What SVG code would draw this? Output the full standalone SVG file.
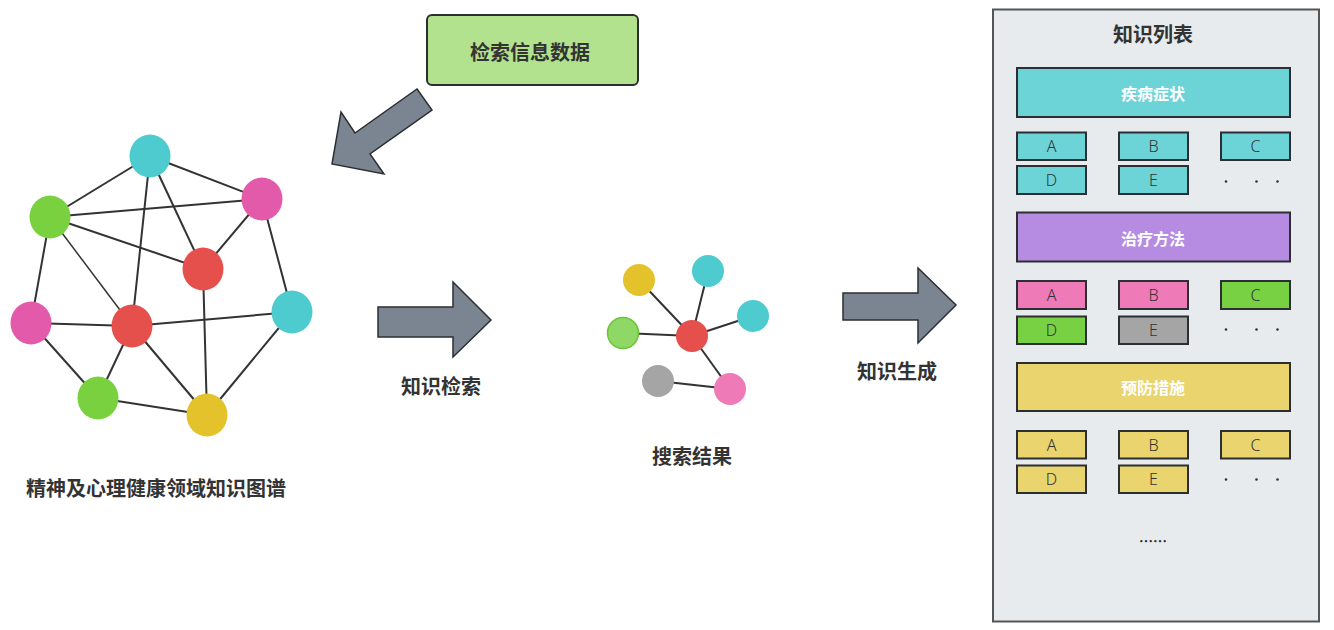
<svg xmlns="http://www.w3.org/2000/svg" width="1334" height="630" viewBox="0 0 1334 630">
<style>
.cjk{font-family:"Noto Sans CJK SC","Noto Sans",sans-serif;font-weight:bold;fill:#333;text-anchor:middle;dominant-baseline:central}
.lbl{font-size:20px}
.hdr{font-size:16px;fill:#fff}
.item{font-family:"Noto Sans","Liberation Sans",sans-serif;font-weight:300;font-size:16px;fill:#333;text-anchor:middle;dominant-baseline:central}
.edge{stroke:#333;stroke-width:2;fill:none}
.arrow{fill:#7b8591;stroke:#2b2f33;stroke-width:1.5;stroke-linejoin:miter}
.box{stroke:#2b2f33;stroke-width:2}
.dot{fill:#333}
.cy{fill:#4ecbcf}.mg{fill:#e45aab}.gr{fill:#7ad13f}.rd{fill:#e5504d}.ye{fill:#e3c22b}
</style>
<rect width="1334" height="630" fill="#fff"/>

<!-- connectors -->
<g id="connectors">
  <g id="kg-edges" class="edge">
    <line x1="150" y1="156" x2="50" y2="217"/>
    <line x1="150" y1="156" x2="262" y2="199"/>
    <line x1="150" y1="156" x2="203" y2="269"/>
    <line x1="150" y1="156" x2="132" y2="326"/>
    <line x1="50" y1="217" x2="262" y2="199"/>
    <line x1="50" y1="217" x2="203" y2="269"/>
    <line x1="50" y1="217" x2="132" y2="326" stroke-width="1.5"/>
    <line x1="50" y1="217" x2="31" y2="323"/>
    <line x1="262" y1="199" x2="203" y2="269"/>
    <line x1="262" y1="199" x2="292" y2="312"/>
    <line x1="203" y1="269" x2="207" y2="415"/>
    <line x1="132" y1="326" x2="292" y2="312"/>
    <line x1="132" y1="326" x2="31" y2="323"/>
    <line x1="132" y1="326" x2="98" y2="398"/>
    <line x1="132" y1="326" x2="207" y2="415"/>
    <line x1="31" y1="323" x2="98" y2="398"/>
    <line x1="98" y1="398" x2="207" y2="415"/>
    <line x1="292" y1="312" x2="207" y2="415"/>
  </g>
  <g id="sr-edges" class="edge">
    <line x1="692" y1="336" x2="639" y2="280"/>
    <line x1="692" y1="336" x2="708" y2="271"/>
    <line x1="692" y1="336" x2="753" y2="316"/>
    <line x1="692" y1="336" x2="623" y2="333"/>
    <line x1="692" y1="336" x2="730" y2="389"/>
    <line x1="658" y1="381" x2="730" y2="389"/>
  </g>
  <polygon id="arrow-input" class="arrow" points="417,89 432,110 370,154 384,174 332,164 341,112 355,133"/>
  <polygon id="arrow-retrieve" class="arrow" points="378,307 453,307 453,282 491,320 453,357 453,337 378,337"/>
  <polygon id="arrow-generate" class="arrow" points="843,293 918,293 918,268 956,305 918,343 918,320 843,320"/>
</g>

<!-- knowledge graph -->
<g id="knowledge-graph">
  <ellipse class="cy" cx="150" cy="156" rx="20.5" ry="21.5"/>
  <ellipse class="mg" cx="262" cy="199" rx="20.5" ry="21.5"/>
  <ellipse class="gr" cx="50" cy="217" rx="20.5" ry="21.5"/>
  <ellipse class="rd" cx="203" cy="269" rx="20.5" ry="21.5"/>
  <ellipse class="cy" cx="292" cy="312" rx="20.5" ry="21.5"/>
  <ellipse class="mg" cx="31" cy="323" rx="20.5" ry="21.5"/>
  <ellipse class="rd" cx="132" cy="326" rx="20.5" ry="21.5"/>
  <ellipse class="gr" cx="98" cy="398" rx="20.5" ry="21.5"/>
  <ellipse class="ye" cx="207" cy="415" rx="20.5" ry="21.5"/>
  <text class="cjk lbl" x="156" y="487">精神及心理健康领域知识图谱</text>
</g>

<!-- input data -->
<g id="input-data">
  <rect x="427" y="15" width="211" height="70" rx="5" fill="#b3e28f" class="box"/>
  <text class="cjk lbl" x="530" y="51">检索信息数据</text>
</g>

<g id="label-retrieve"><text class="cjk lbl" x="441" y="385">知识检索</text></g>
<g id="label-generate"><text class="cjk lbl" x="897" y="370">知识生成</text></g>

<!-- search results -->
<g id="search-results">
  <circle cx="639" cy="280" r="16" fill="#e3c22b"/>
  <circle cx="708" cy="271" r="16" fill="#4ecbcf"/>
  <circle cx="753" cy="316" r="16" fill="#4ecbcf"/>
  <circle cx="623" cy="333" r="15.5" fill="#8fd866" stroke="#6cc23a" stroke-width="1.5"/>
  <circle cx="692" cy="336" r="16" fill="#e5504d"/>
  <circle cx="658" cy="381" r="16" fill="#a5a5a5"/>
  <circle cx="730" cy="389" r="16" fill="#ef7ab8"/>
  <text class="cjk lbl" x="692" y="455">搜索结果</text>
</g>

<!-- knowledge list -->
<g id="knowledge-list">
  <rect x="993" y="9.5" width="326" height="612" fill="#e8ebed" stroke="#555" stroke-width="2"/>
  <text class="cjk" style="font-size:20px" x="1153" y="33">知识列表</text>

  <g id="symptoms">
    <rect class="box" x="1017" y="68" width="273" height="49" fill="#6cd3d6"/>
    <text class="cjk hdr" x="1153" y="93">疾病症状</text>
    <rect class="box" x="1017" y="132.5" width="69" height="27.5" fill="#6cd3d6"/><text class="item" x="1051.5" y="146">A</text>
    <rect class="box" x="1119" y="132.5" width="69" height="27.5" fill="#6cd3d6"/><text class="item" x="1153.5" y="146">B</text>
    <rect class="box" x="1221" y="132.5" width="69" height="27.5" fill="#6cd3d6"/><text class="item" x="1255.5" y="146">C</text>
    <rect class="box" x="1017" y="166" width="69" height="28" fill="#6cd3d6"/><text class="item" x="1051.5" y="180">D</text>
    <rect class="box" x="1119" y="166" width="69" height="28" fill="#6cd3d6"/><text class="item" x="1153.5" y="180">E</text>
    <circle class="dot" cx="1226" cy="181.5" r="1.3"/><circle class="dot" cx="1256.5" cy="181.5" r="1.3"/><circle class="dot" cx="1277.5" cy="181.5" r="1.3"/>
  </g>

  <g id="treatment">
    <rect class="box" x="1017" y="212.5" width="273" height="49" fill="#b68ce2"/>
    <text class="cjk hdr" x="1153" y="237.5">治疗方法</text>
    <rect class="box" x="1017" y="281" width="69" height="28" fill="#ef7ab8"/><text class="item" x="1051.5" y="295">A</text>
    <rect class="box" x="1119" y="281" width="69" height="28" fill="#ef7ab8"/><text class="item" x="1153.5" y="295">B</text>
    <rect class="box" x="1221" y="281" width="69" height="28" fill="#77d143"/><text class="item" x="1255.5" y="295">C</text>
    <rect class="box" x="1017" y="316.5" width="69" height="27.5" fill="#77d143"/><text class="item" x="1051.5" y="330">D</text>
    <rect class="box" x="1119" y="316.5" width="69" height="27.5" fill="#a5a5a5"/><text class="item" x="1153.5" y="330">E</text>
    <circle class="dot" cx="1226" cy="329.5" r="1.3"/><circle class="dot" cx="1256.5" cy="329.5" r="1.3"/><circle class="dot" cx="1277.5" cy="329.5" r="1.3"/>
  </g>

  <g id="prevention">
    <rect class="box" x="1017" y="363" width="273" height="48" fill="#e9d46e"/>
    <text class="cjk hdr" x="1153" y="387">预防措施</text>
    <rect class="box" x="1017" y="431" width="69" height="27.5" fill="#e9d46e"/><text class="item" x="1051.5" y="445">A</text>
    <rect class="box" x="1119" y="431" width="69" height="27.5" fill="#e9d46e"/><text class="item" x="1153.5" y="445">B</text>
    <rect class="box" x="1221" y="431" width="69" height="27.5" fill="#e9d46e"/><text class="item" x="1255.5" y="445">C</text>
    <rect class="box" x="1017" y="465.5" width="69" height="27.5" fill="#e9d46e"/><text class="item" x="1051.5" y="479">D</text>
    <rect class="box" x="1119" y="465.5" width="69" height="27.5" fill="#e9d46e"/><text class="item" x="1153.5" y="479">E</text>
    <circle class="dot" cx="1226" cy="479.5" r="1.3"/><circle class="dot" cx="1256.5" cy="479.5" r="1.3"/><circle class="dot" cx="1277.5" cy="479.5" r="1.3"/>
  </g>

  <text class="cjk" style="font-size:14px" x="1153" y="540">……</text>
</g>
</svg>
